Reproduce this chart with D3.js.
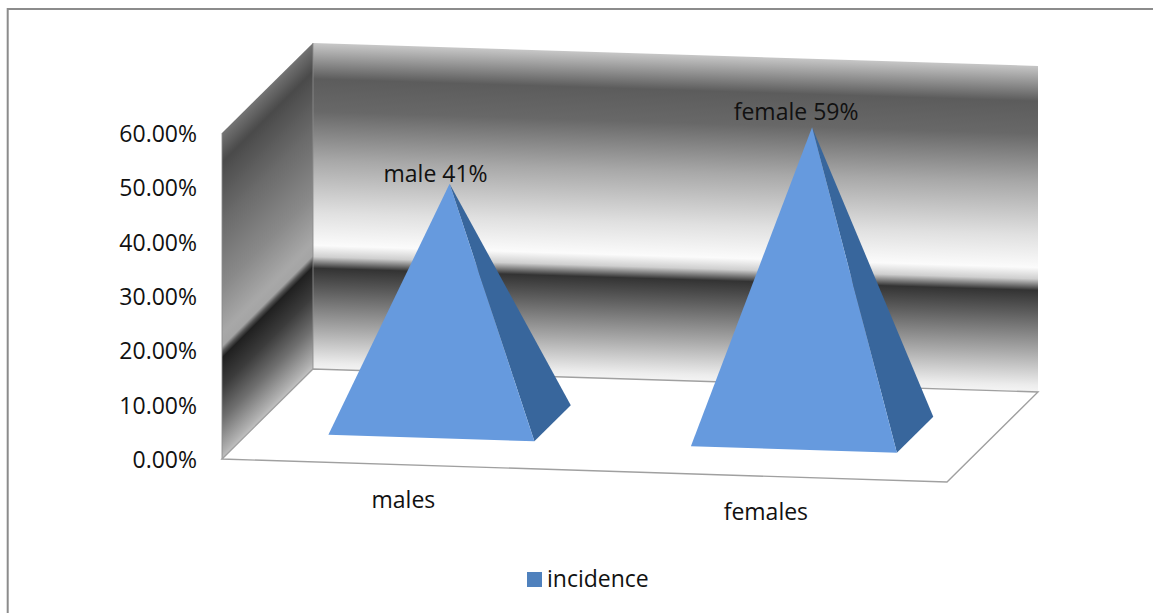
<!DOCTYPE html>
<html>
<head>
<meta charset="utf-8">
<script src="https://cdn.jsdelivr.net/npm/d3@7/dist/d3.min.js"></script>
<style>
  html, body { margin: 0; padding: 0; background: #fff; }
  svg { display: block; }
  text { font-family: "Open Sans", sans-serif; fill: #111; }
</style>
</head>
<body>
<svg id="chart" width="1153" height="613"></svg>
<script>
// Chart data
const categories = ["males", "females"];
const incidence = [41, 59];
const dataLabels = ["male 41%", "female 59%"];
const seriesName = "incidence";
const axisTicks = [0, 10, 20, 30, 40, 50, 60];

const svg = d3.select("#chart");
const defs = svg.append("defs");

// Box geometry of the oblique 3D view
const front = { left: 222, top: 133, bottom: 459 };
const depth = { dx: 91, dy: -90 };
const floorWidth = { dx: 725, dy: 23 };

const yAxisScale = d3.scaleLinear().domain([0, 60]).range([front.bottom, front.top]);

// Position along the category direction of the floor, as a fraction of its width
const xBand = d3.scalePoint().domain(categories).range([0.2514, 0.7514]).padding(0);
// The oblique view foreshortens column heights, so height has its own scale
const pyramidHeight = d3.scaleLinear().domain([0, 60]).range([81, 308]);

const base = { width: 206, depthFrac: 0.4, frontOffset: 0.298 };
// Data label placement relative to each apex
const labelOffset = [[-14, -2], [-16, -7]];

const onFloor = (fx, fd) => [
  front.left + floorWidth.dx * fx + depth.dx * fd,
  front.bottom + floorWidth.dy * fx + depth.dy * fd
];
const poly = pts => pts.map(p => p.join(",")).join(" ");

function gradient(id, a, b, stops) {
  const g = defs.append("linearGradient").attr("id", id)
    .attr("gradientUnits", "userSpaceOnUse")
    .attr("x1", a[0]).attr("y1", a[1]).attr("x2", b[0]).attr("y2", b[1]);
  stops.forEach(([o, c]) => g.append("stop").attr("offset", o).attr("stop-color", c));
}

// Outer frame: left and top rules only, running off the page
svg.append("path").attr("d", "M7.7,613V9H1153")
  .attr("fill", "none").attr("stroke", "#8c8c8c").attr("stroke-width", 2);

// Corner points of the box
const wallH = front.bottom - front.top;
const fb = [front.left, front.bottom];
const ft = [front.left, front.top];
const bb = [fb[0] + depth.dx, fb[1] + depth.dy];
const bt = [ft[0] + depth.dx, ft[1] + depth.dy];
const rb = [bb[0] + floorWidth.dx, bb[1] + floorWidth.dy];
const rt = [bt[0] + floorWidth.dx, bt[1] + floorWidth.dy];
const fr = [fb[0] + floorWidth.dx, fb[1] + floorWidth.dy];

// Back wall, banded along the slope of its top edge
gradient("backWall", bt, [bt[0] - 10, bt[1] + wallH], [
  [0, "#c8c8c8"], [0.11, "#5c5c5c"], [0.21, "#686868"], [0.36, "#a8a8a8"],
  [0.52, "#e0e0e0"], [0.62, "#fbfbfb"], [0.655, "#cfcfcf"], [0.69, "#333333"],
  [0.76, "#5e5e5e"], [0.88, "#aaaaaa"], [0.98, "#ececec"], [1, "#f4f4f4"]
]);
svg.append("polygon").attr("points", poly([bt, rt, rb, bb])).attr("fill", "url(#backWall)");

// Left wall, banded along the depth direction
const span = wallH / 2;
gradient("sideWall", ft, [ft[0] + span, ft[1] + span], [
  [0, "#747474"], [0.09, "#4a4a4a"], [0.27, "#6a6a6a"], [0.475, "#8a8a8a"],
  [0.615, "#a8a8a8"], [0.655, "#a4a4a4"], [0.672, "#555555"], [0.69, "#202020"],
  [0.78, "#3c3c3c"], [0.88, "#707070"], [0.98, "#b0b0b0"], [1, "#c0c0c0"]
]);
svg.append("polygon").attr("points", poly([ft, bt, bb, fb])).attr("fill", "url(#sideWall)");

// Soft edges of the left wall
svg.append("path").attr("d", `M${ft}L${fb}M${bt}L${bb}`)
  .attr("fill", "none").attr("stroke", "#8c8c8c").attr("stroke-width", 1.2).attr("opacity", 0.7);

// Floor
svg.append("polygon").attr("points", poly([fb, bb, rb, fr]))
  .attr("fill", "#fff").attr("stroke", "#a0a0a0").attr("stroke-width", 1.4);

// Pyramids: a lit front face and a shaded side face
categories.forEach((c, i) => {
  const fx = xBand(c);
  const w = base.width / floorWidth.dx;
  const d = base.depthFrac;
  const fl = onFloor(fx - w / 2, base.frontOffset);
  const frr = onFloor(fx + w / 2, base.frontOffset);
  const br = [frr[0] + depth.dx * d, frr[1] + depth.dy * d];
  const cx = (fl[0] + br[0]) / 2;
  const cy = (fl[1] + br[1]) / 2;
  const apex = [cx, cy - pyramidHeight(incidence[i])];

  svg.append("polygon").attr("points", poly([apex, frr, br])).attr("fill", "#38669c");
  svg.append("polygon").attr("points", poly([apex, fl, frr])).attr("fill", "#669ade");

  svg.append("text")
    .attr("x", apex[0] + labelOffset[i][0]).attr("y", apex[1] + labelOffset[i][1])
    .attr("text-anchor", "middle").attr("font-size", 23).text(dataLabels[i]);

  svg.append("text")
    .attr("x", (fl[0] + frr[0]) / 2 - 28).attr("y", frr[1] + 67)
    .attr("text-anchor", "middle").attr("font-size", 23).text(c);
});

// Value axis, labels only
const axis = d3.axisLeft(yAxisScale).tickValues(axisTicks)
  .tickSize(0).tickPadding(25).tickFormat(d => d.toFixed(2) + "%");
const axisG = svg.append("g").attr("transform", `translate(${front.left},1)`).call(axis);
axisG.select(".domain").remove();
axisG.selectAll("text").attr("font-size", 23).style("font-family", '"Open Sans", sans-serif');

// Legend
svg.append("rect").attr("x", 527).attr("y", 572).attr("width", 15).attr("height", 15).attr("fill", "#4f81bd");
svg.append("text").attr("x", 547).attr("y", 587).attr("font-size", 23).text(seriesName);
</script>
</body>
</html>
